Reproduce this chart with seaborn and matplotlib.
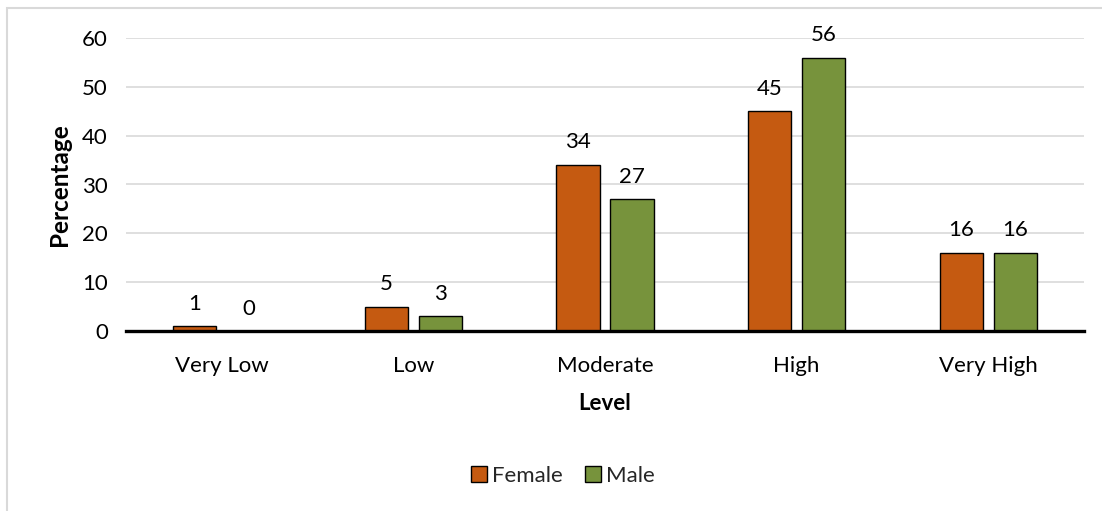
import matplotlib
matplotlib.use("Agg")
import matplotlib.pyplot as plt
import seaborn as sns
import pandas as pd
from matplotlib.patches import Rectangle

levels = ["Very Low", "Low", "Moderate", "High", "Very High"]
female = [1, 5, 34, 45, 16]
male = [0, 3, 27, 56, 16]
series = ["Female", "Male"]
colors = {"Female": "#C55A11", "Male": "#77933C"}

df = pd.DataFrame({
    "Level": levels * 2,
    "Percentage": female + male,
    "Sex": ["Female"] * len(levels) + ["Male"] * len(levels),
})

sns.set_theme(style="white")
plt.rcParams["font.family"] = ["Lato", "DejaVu Sans"]

FS = 16

fig = plt.figure(figsize=(11.02, 5.11), dpi=100)
ax = fig.add_axes([126 / 1102, 1 - 331 / 511, (1084 - 126) / 1102, (331 - 38) / 511])

sns.barplot(data=df, x="Level", y="Percentage", hue="Sex", order=levels,
            hue_order=series, palette=colors, saturation=1, width=0.564, gap=0.2,
            edgecolor="black", linewidth=1.0, ax=ax, legend=True)

ax.set_ylim(0, 60)
ax.set_xlim(-0.5, len(levels) - 0.5)
ax.set_yticks(range(0, 61, 10))
ax.yaxis.grid(True, color="#D9D9D9", linewidth=1.2)
ax.set_axisbelow(True)
for s in ["top", "right", "left"]:
    ax.spines[s].set_visible(False)
ax.spines["bottom"].set_color("black")
ax.spines["bottom"].set_linewidth(2.4)
ax.spines["bottom"].set_zorder(5)
ax.tick_params(axis="both", length=0, labelsize=FS, colors="black")
ax.tick_params(axis="x", pad=18)
ax.tick_params(axis="y", pad=13)

for c in ax.containers:
    ax.bar_label(c, labels=[f"{v:.0f}" for v in c.datavalues], padding=9,
                 fontsize=FS, color="black")

ax.set_xlabel("Level", fontsize=FS, fontweight="bold", labelpad=12, color="black")
ax.set_ylabel("Percentage", fontsize=17.5, fontweight="bold", labelpad=8, color="black")

handles, labels = ax.get_legend_handles_labels()
ax.get_legend().remove()
leg = fig.legend(handles, labels, loc="center", bbox_to_anchor=(563 / 1102, 1 - 476 / 511),
                 ncol=2, frameon=False, fontsize=FS, handlelength=0.7, handleheight=0.7,
                 handletextpad=0.25, columnspacing=1.0)
for h in leg.legend_handles:
    h.set_edgecolor("black")
    h.set_linewidth(1.0)

fig.patches.append(Rectangle((7 / 1102, -0.1), 1.2, 1.1 - 8 / 511,
                             transform=fig.transFigure, fill=False,
                             edgecolor="#D9D9D9", linewidth=1.5, zorder=-1))

fig.savefig("out.png", dpi=100, facecolor="white")
